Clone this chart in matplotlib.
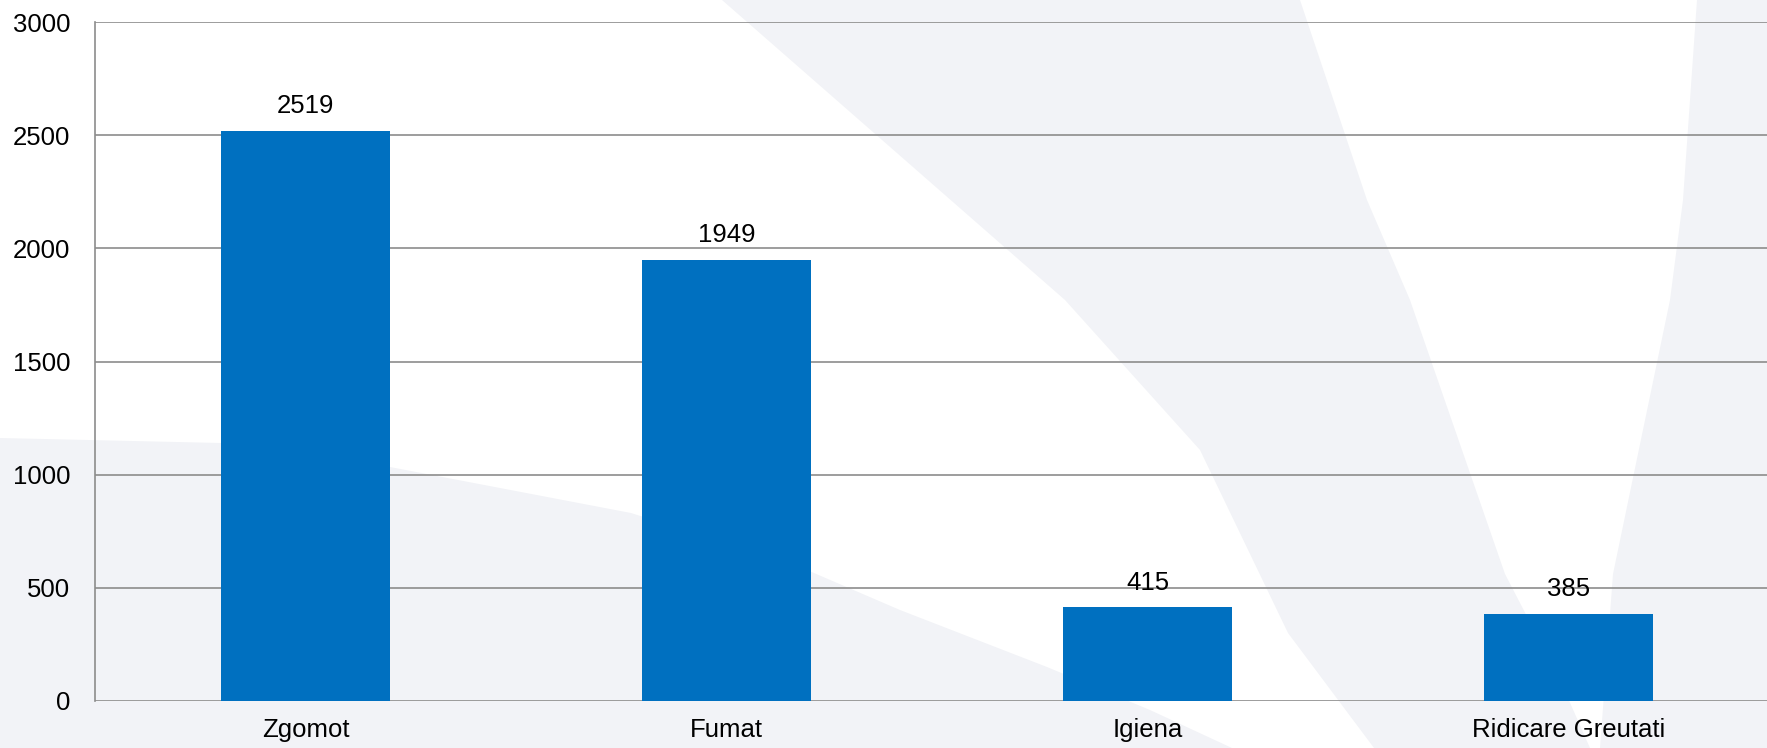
import matplotlib.pyplot as plt
from matplotlib.patches import Polygon

categories = ["Zgomot", "Fumat", "Igiena", "Ridicare Greutati"]
values = [2519, 1949, 415, 385]
y_ticks = [0, 500, 1000, 1500, 2000, 2500, 3000]

BAR_COLOR = "#0070C0"
GRID_COLOR = "#8C8C8C"
BG_GREY = "#F2F3F7"
W, H = 1767, 748

plt.rcParams["font.family"] = ["Liberation Sans", "DejaVu Sans"]

fig = plt.figure(figsize=(W / 100, H / 100), dpi=100, facecolor=BG_GREY)

# background swooshes, in pixel coords (y down)
bg = fig.add_axes([0, 0, 1, 1], zorder=0)
bg.set_xlim(0, W)
bg.set_ylim(H, 0)
bg.axis("off")
white_left = [
    (0, 0), (722, 0), (1065, 300), (1200, 450), (1288, 633), (1374, 748),
    (1232, 748), (1150, 710), (1047, 667), (900, 610), (800, 567),
    (631, 513), (390, 467), (221, 443), (0, 438),
]
white_right = [
    (1300, 0), (1697, 0), (1683, 200), (1670, 300), (1613, 574), (1600, 748),
    (1590, 748), (1560, 680), (1505, 574), (1410, 300), (1367, 200),
]
for pts in (white_left, white_right):
    bg.add_patch(Polygon(pts, closed=True, facecolor="white", edgecolor="none"))

# main chart
left, right, top, bottom = 95, 95 + 4 * 421, 22, 701
ax = fig.add_axes([left / W, (H - bottom) / H, (right - left) / W, (bottom - top) / H], zorder=1)
ax.patch.set_alpha(0)

x = range(len(categories))
bars = ax.bar(x, values, width=0.4, color=BAR_COLOR, zorder=3)
ax.bar_label(bars, labels=[str(v) for v in values], padding=9, fontsize=18.5, color="black")

ax.set_xlim(-0.5, len(categories) - 0.5)
ax.set_ylim(0, 3000)
ax.set_yticks(y_ticks)
ax.set_xticks(list(x))
ax.set_xticklabels(categories)
ax.tick_params(axis="both", length=0, labelsize=18.5, colors="black")
ax.tick_params(axis="y", pad=18)
ax.tick_params(axis="x", pad=12)

ax.yaxis.grid(True, color=GRID_COLOR, linewidth=1.2)
ax.set_axisbelow(True)
for side in ("top", "right", "bottom"):
    ax.spines[side].set_visible(False)
ax.spines["left"].set_color(GRID_COLOR)
ax.spines["left"].set_linewidth(1.2)

fig.savefig("out.png", dpi=100, facecolor=BG_GREY)
